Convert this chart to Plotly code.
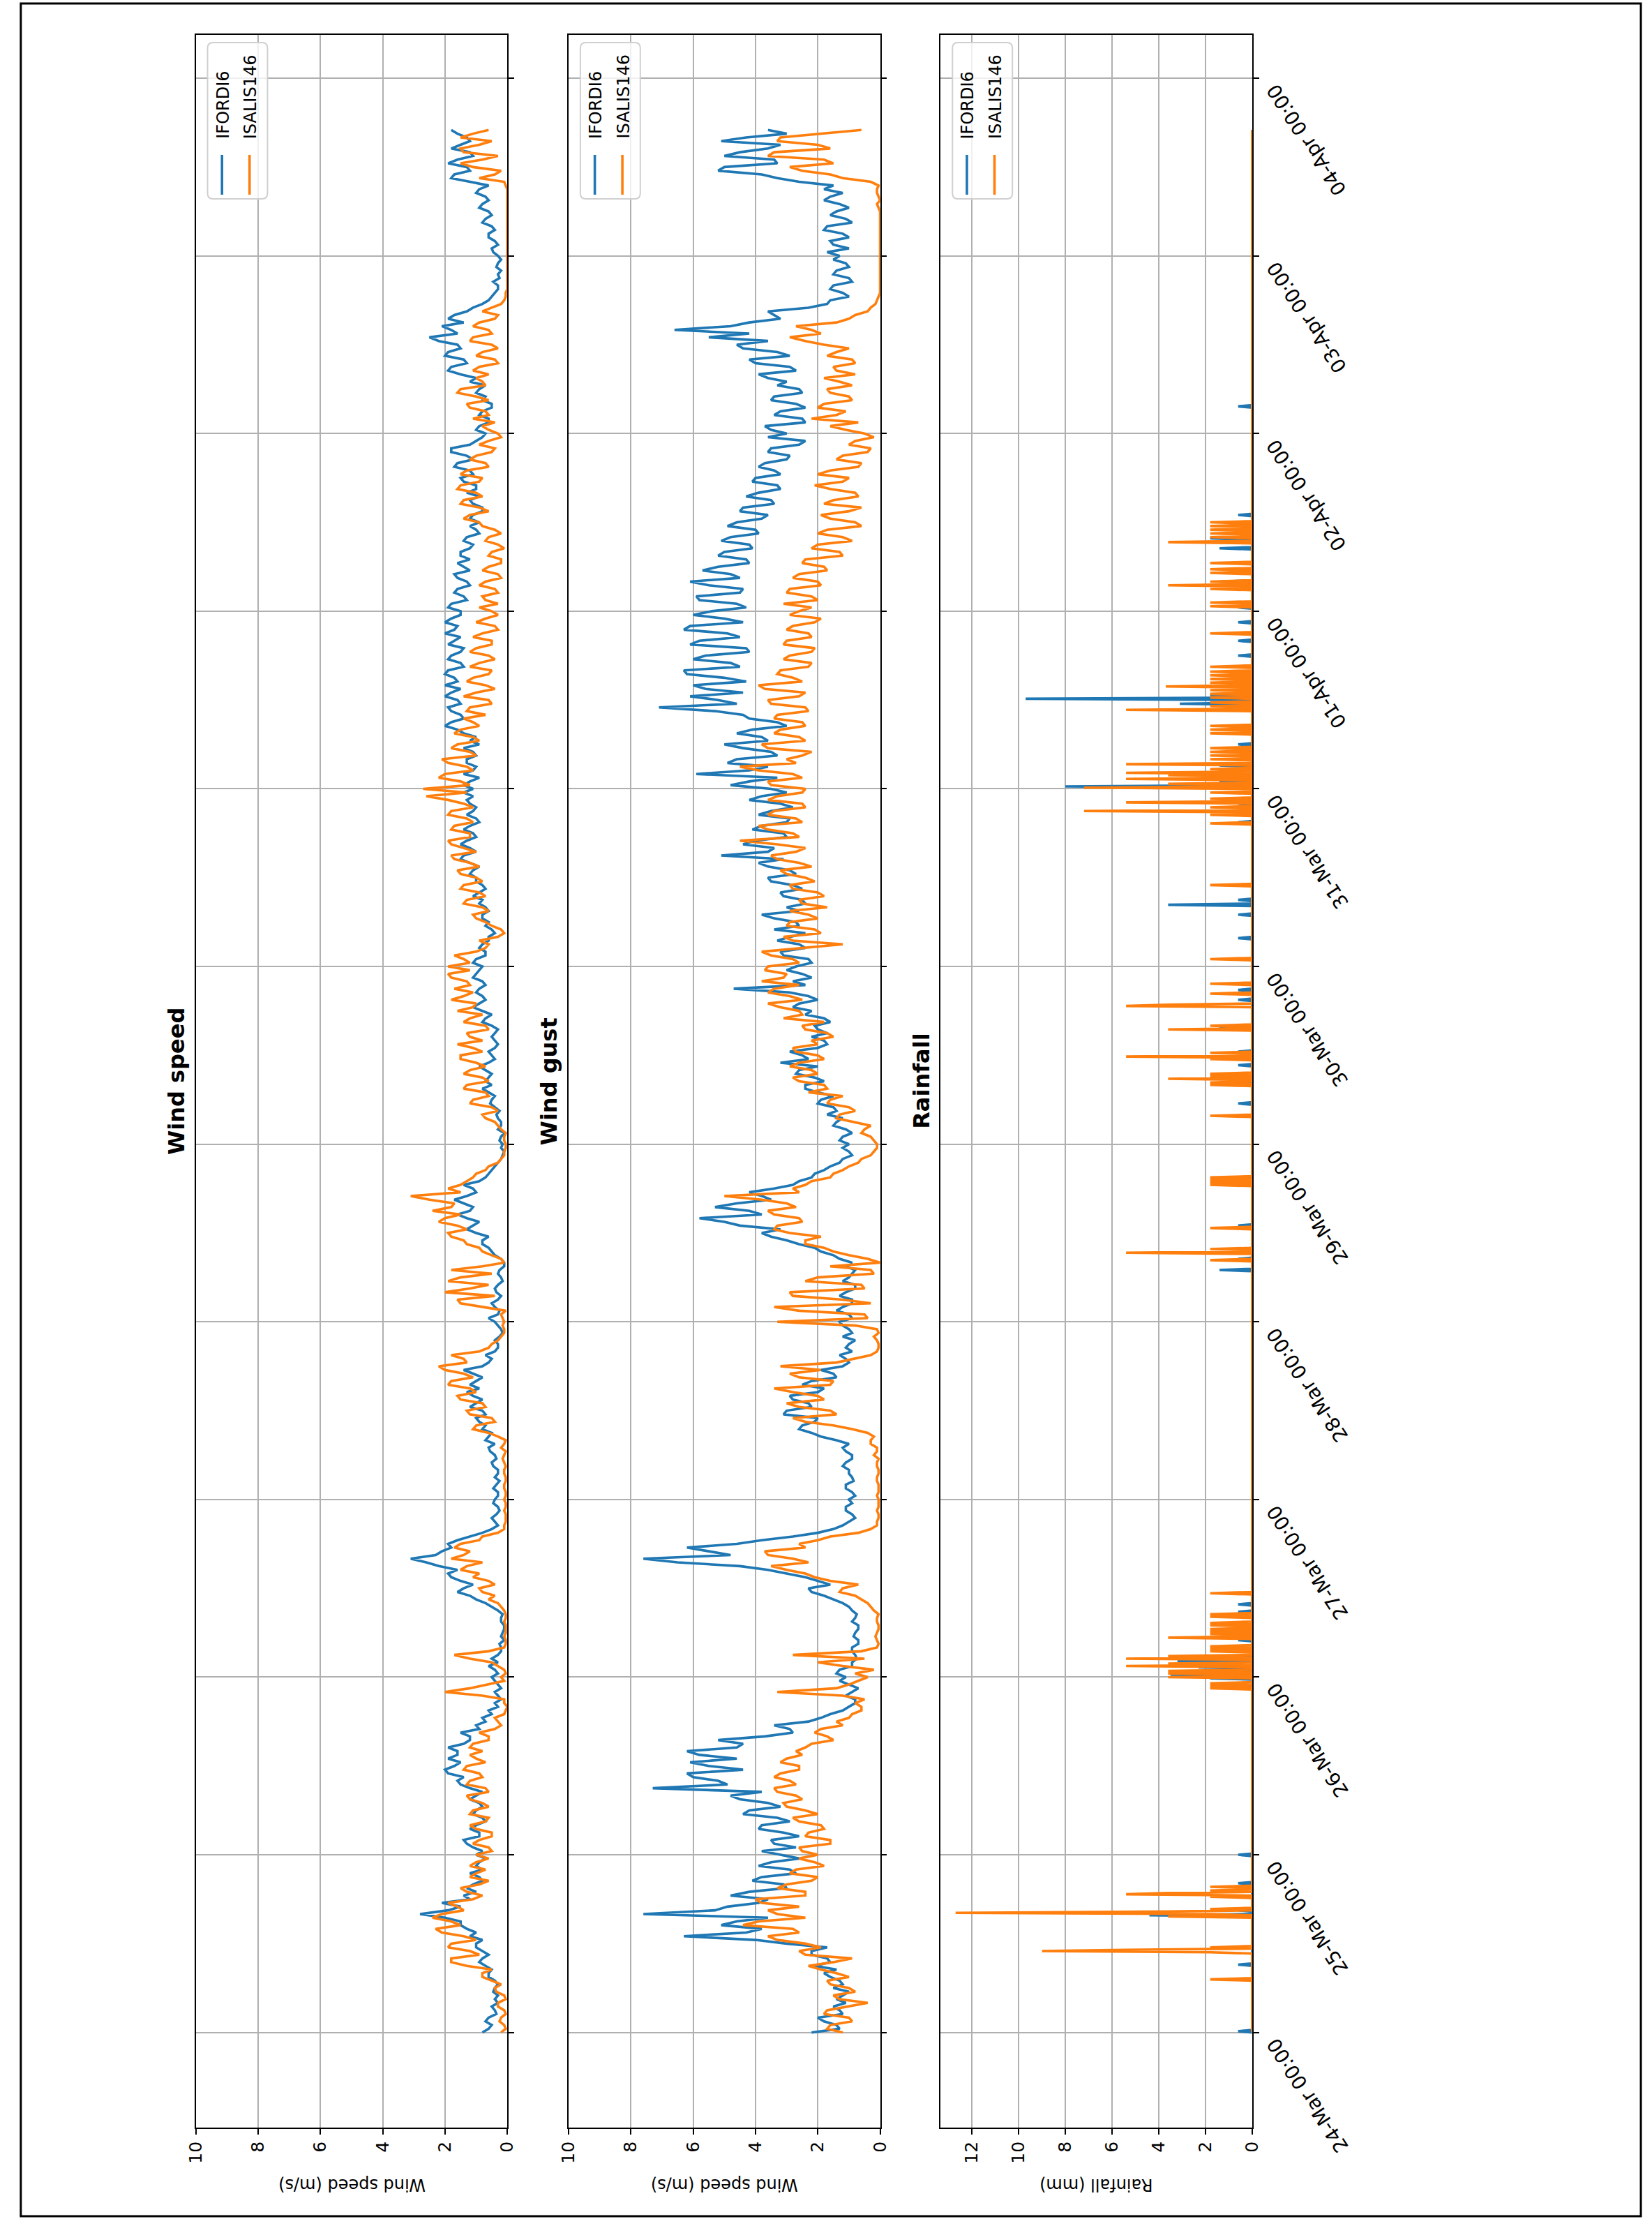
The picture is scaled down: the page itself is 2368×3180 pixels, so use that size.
import numpy as np
import pandas as pd
import plotly.graph_objects as go

W, H = 2368, 3180

# ---------------- data: readings at every full hour and every half hour ----------------
start = pd.Timestamp("2021-03-24 00:00")
n_hours = 258  # 24-Mar 00:00 .. 03-Apr 17:00

# values at hh:00
speed_ifordi6 = [
    0.8, 0.5, 0.6, 0.4, 0.3, 0.3, 0.4, 0.4, 0.6, 0.7, 0.8, 0.8, 1.0, 1.2, 1.3, 1.5, 2.8, 1.5, 1.2, 1.0, 1.1, 0.9, 0.8, 0.9,
    1.0, 1.1, 1.4, 0.9, 1.0, 0.8, 1.0, 0.9, 1.0, 1.2, 1.6, 1.9, 1.7, 1.9, 1.6, 1.4, 1.2, 0.9, 0.7, 0.5, 0.3, 0.2, 0.4, 0.3,
    0.5, 0.4, 0.3, 0.3, 0.2, 0.1, 0.15, 0.1, 0.2, 0.3, 0.7, 1.2, 1.4, 1.5, 1.9, 2.2, 3.1, 2.1, 1.9, 1.2, 0.5, 0.4, 0.35, 0.3,
    0.4, 0.3, 0.35, 0.4, 0.3, 0.5, 0.4, 0.6, 0.7, 0.5, 0.7, 1.0, 0.8, 1.0, 1.1, 0.9, 1.0, 1.1, 0.8, 0.5, 0.4, 0.3, 0.25, 0.2,
    0.4, 0.3, 0.4, 0.3, 0.35, 0.3, 0.2, 0.25, 0.1, 0.4, 0.6, 0.8, 1.0, 1.1, 1.3, 1.2, 1.4, 1.3, 1.1, 0.9, 0.6, 0.4, 0.2, 0.1,
    0.15, 0.2, 0.3, 0.2, 0.35, 0.4, 0.5, 0.6, 0.5, 0.6, 0.7, 0.6, 0.5, 0.4, 0.4, 0.4, 0.5, 0.7, 0.8, 0.9, 0.8, 0.9, 0.8, 1.0,
    0.8, 1.0, 0.7, 0.8, 0.6, 0.5, 0.6, 0.8, 0.7, 0.8, 0.9, 0.8, 1.0, 1.1, 1.2, 1.4, 1.2, 1.3, 1.1, 1.2, 1.0, 1.1, 1.2, 1.1,
    1.1, 1.2, 1.4, 1.0, 1.3, 1.1, 0.9, 1.0, 1.6, 1.8, 1.5, 1.9, 1.6, 1.8, 2.0, 1.7, 1.9, 1.5, 1.8, 1.4, 1.7, 2.0, 1.6, 1.8,
    1.5, 1.8, 1.4, 1.6, 1.3, 1.7, 1.4, 1.2, 1.5, 1.1, 1.3, 1.0, 0.9, 1.1, 0.8, 1.2, 1.3, 1.0, 1.5, 1.2, 1.6, 1.3, 1.8, 1.0,
    0.7, 0.9, 0.6, 0.8, 0.5, 0.7, 0.9, 1.2, 1.5, 1.8, 1.4, 1.9, 1.6, 2.5, 1.8, 1.4, 1.7, 1.1, 0.6, 0.4, 0.3, 0.25, 0.2, 0.3,
    0.3, 0.5, 0.4, 0.6, 0.5, 0.7, 0.6, 0.8, 0.7, 0.9, 1.2, 1.7, 1.3, 1.6, 1.2, 1.5, 1.3, 1.8,
]
speed_isalis146 = [
    0.2, 0.1, 0.2, 0.1, 0.3, 0.1, 0.4, 0.5, 0.8, 1.3, 1.8, 1.2, 1.8, 1.4, 2.3, 1.8, 2.1, 1.6, 1.1, 1.3, 0.9, 1.2, 0.7, 1.0,
    1.0, 0.6, 0.9, 0.5, 1.2, 0.6, 1.1, 0.8, 1.3, 0.7, 1.2, 0.9, 1.3, 1.0, 0.8, 1.1, 0.6, 0.4, 0.3, 0.1, 0.0, 0.1, 2.0, 0.6,
    0.2, 0.1, 0.5, 1.7, 0.1, 0.05, 0.05, 0.05, 0.05, 0.1, 0.3, 0.4, 0.9, 0.6, 0.9, 1.3, 1.8, 1.2, 1.5, 0.8, 0.1, 0.05, 0.05, 0.05,
    0.1, 0.05, 0.1, 0.05, 0.1, 0.1, 0.1, 0.2, 0.05, 0.6, 1.0, 0.5, 1.3, 0.8, 1.6, 1.2, 1.8, 1.4, 2.2, 1.4, 0.9, 0.5, 0.2, 0.1,
    0.1, 0.2, 0.8, 1.6, 2.0, 0.6, 1.5, 1.8, 0.1, 0.5, 0.9, 1.4, 1.9, 1.6, 2.0, 2.4, 1.7, 3.1, 1.9, 1.3, 1.0, 0.6, 0.2, 0.1,
    0.05, 0.1, 0.2, 0.4, 0.8, 0.5, 1.1, 0.7, 1.3, 0.8, 1.2, 1.0, 1.5, 1.1, 0.8, 1.3, 0.7, 1.2, 1.6, 1.0, 1.4, 1.7, 1.3, 1.9,
    1.9, 1.4, 1.0, 0.6, 0.3, 0.2, 0.7, 1.1, 0.8, 1.3, 0.9, 1.4, 1.0, 1.6, 1.2, 1.8, 1.4, 1.9, 1.2, 1.7, 1.3, 1.8, 1.4, 2.6,
    2.7, 1.5, 2.0, 1.3, 2.1, 1.2, 1.6, 1.1, 1.5, 1.1, 0.7, 1.2, 0.6, 1.0, 0.7, 1.1, 0.5, 0.9, 0.6, 1.0, 0.5, 0.8, 0.4, 0.7,
    0.5, 0.3, 0.8, 0.4, 0.7, 0.3, 0.6, 0.2, 0.5, 0.3, 0.6, 0.4, 0.9, 1.2, 0.9, 1.4, 1.0, 1.5, 0.8, 1.3, 0.7, 1.0, 0.4, 0.6,
    0.3, 0.8, 1.1, 0.7, 1.3, 1.0, 1.5, 0.8, 0.6, 0.9, 0.4, 0.8, 0.5, 1.1, 0.6, 0.9, 0.3, 0.5, 0.1, 0.05, 0.0, 0.0, 0.0, 0.0,
    0.0, 0.0, 0.0, 0.0, 0.0, 0.0, 0.0, 0.0, 0.0, 0.0, 0.1, 0.4, 1.1, 0.8, 1.4, 0.9, 1.5, 0.6,
]
gust_ifordi6 = [
    2.2, 1.4, 2.0, 1.3, 1.1, 1.2, 1.5, 1.3, 1.8, 2.1, 1.7, 2.2, 3.0, 6.3, 3.8, 4.6, 7.6, 4.9, 3.6, 4.2, 3.1, 3.8, 2.9, 3.5,
    3.2, 2.7, 3.5, 3.1, 3.8, 3.3, 4.2, 3.6, 4.8, 7.3, 5.2, 6.2, 5.5, 4.6, 6.2, 4.4, 3.7, 2.9, 2.3, 1.6, 1.0, 0.8, 0.9, 1.0,
    1.1, 1.3, 0.9, 0.8, 0.9, 0.7, 0.8, 0.7, 0.8, 0.9, 1.2, 1.8, 2.3, 2.0, 3.0, 4.5, 7.6, 5.5, 4.6, 2.8, 1.5, 1.0, 0.9, 1.1,
    1.0, 0.9, 1.1, 0.9, 1.0, 1.1, 0.9, 1.2, 1.4, 2.2, 2.5, 2.0, 3.0, 2.3, 2.9, 1.8, 2.2, 1.5, 1.2, 1.1, 0.9, 1.0, 1.2, 1.0,
    1.3, 1.0, 1.2, 0.9, 1.1, 0.8, 1.0, 0.8, 0.9, 1.5, 2.1, 3.0, 3.8, 4.5, 5.8, 4.2, 4.6, 3.8, 3.4, 2.6, 2.1, 1.6, 1.2, 1.0,
    1.0, 1.2, 1.1, 1.4, 1.7, 1.5, 1.9, 2.0, 2.4, 2.1, 2.6, 3.2, 2.5, 2.0, 1.8, 1.7, 2.1, 1.8, 2.2, 2.6, 2.3, 4.7, 2.8, 2.5,
    2.7, 2.3, 3.2, 2.6, 2.9, 3.4, 2.7, 3.8, 3.0, 2.5, 3.2, 2.8, 3.6, 2.9, 3.9, 5.1, 3.4, 4.0, 3.1, 3.8, 2.9, 3.5, 3.2, 3.8,
    3.5, 4.2, 5.9, 3.6, 4.6, 3.5, 5.0, 3.8, 4.1, 3.3, 4.4, 7.1, 5.2, 4.4, 6.0, 5.0, 6.3, 4.8, 5.6, 4.3, 5.8, 4.9, 6.1, 5.0,
    5.4, 4.6, 5.9, 4.4, 6.1, 4.8, 5.2, 4.3, 5.0, 4.2, 4.8, 4.0, 4.6, 3.6, 4.4, 3.5, 3.9, 3.3, 4.0, 3.4, 3.7, 2.9, 3.5, 2.4,
    3.0, 3.7, 2.5, 3.2, 2.7, 3.4, 2.6, 3.0, 3.9, 2.9, 4.2, 3.3, 4.6, 5.5, 6.6, 4.2, 3.4, 2.3, 1.6, 1.2, 1.5, 1.0, 1.4, 1.1,
    1.3, 1.0, 1.6, 1.2, 1.7, 1.1, 1.4, 1.3, 1.6, 1.8, 2.6, 3.8, 5.0, 3.4, 4.5, 3.2, 4.3, 3.6,
]
gust_isalis146 = [
    1.2, 1.6, 1.0, 1.7, 0.4, 1.5, 1.0, 1.7, 1.4, 2.3, 0.9, 2.6, 2.4, 3.6, 2.8, 3.9, 3.3, 2.6, 4.0, 2.4, 3.0, 2.0, 2.7, 2.1,
    2.0, 2.6, 1.6, 2.3, 1.9, 2.8, 2.4, 3.1, 2.7, 3.4, 2.9, 3.2, 2.6, 3.0, 2.7, 2.2, 1.7, 1.9, 1.4, 0.9, 0.6, 0.5, 3.3, 1.0,
    0.4, 0.2, 2.0, 2.8, 0.1, 0.1, 0.1, 0.05, 0.1, 0.2, 0.4, 0.8, 1.2, 1.6, 2.4, 3.5, 2.8, 3.7, 2.6, 1.6, 0.3, 0.1, 0.05, 0.05,
    0.05, 0.05, 0.05, 0.1, 0.05, 0.1, 0.2, 0.1, 0.3, 0.4, 1.5, 2.8, 1.6, 3.0, 2.0, 3.4, 1.5, 2.9, 3.2, 0.8, 0.1, 0.05, 0.2, 0.1,
    3.3, 0.5, 3.4, 1.2, 2.9, 0.6, 2.0, 0.3, 0.0, 1.0, 1.8, 2.4, 2.9, 3.3, 2.6, 3.6, 3.0, 5.0, 2.8, 2.2, 1.5, 1.0, 0.6, 0.2,
    0.1, 0.3, 0.5, 0.9, 1.3, 1.0, 1.6, 2.3, 1.8, 2.8, 2.2, 2.6, 2.0, 2.8, 2.2, 1.7, 2.5, 3.1, 2.6, 3.6, 2.9, 3.4, 3.8, 3.0,
    3.6, 2.8, 3.8, 1.2, 3.1, 2.1, 2.9, 2.3, 1.7, 2.6, 2.0, 2.9, 2.4, 3.2, 2.6, 3.5, 2.4, 4.5, 2.8, 3.9, 2.7, 3.4, 2.5, 3.3,
    2.4, 3.6, 2.8, 4.5, 3.0, 2.2, 3.8, 2.6, 3.2, 2.5, 3.3, 2.4, 3.6, 2.4, 3.9, 2.8, 3.2, 2.2, 2.9, 2.1, 3.0, 2.3, 2.8, 1.9,
    2.6, 3.1, 2.2, 2.9, 2.0, 2.6, 1.8, 2.4, 1.3, 2.0, 1.2, 1.7, 0.8, 1.9, 0.6, 1.5, 0.8, 2.1, 1.0, 1.6, 0.6, 1.2, 0.3, 0.8,
    0.5, 1.6, 2.2, 1.1, 1.8, 1.0, 1.7, 1.3, 0.8, 1.5, 0.9, 1.4, 1.8, 2.9, 2.2, 1.4, 0.8, 0.3, 0.1, 0.0, 0.0, 0.0, 0.0, 0.0,
    0.0, 0.0, 0.0, 0.0, 0.0, 0.0, 0.0, 0.1, 0.05, 0.1, 0.3, 1.6, 2.9, 1.8, 3.4, 2.0, 3.2, 0.6,
]

# values at hh:30 (24-Mar 00:30 .. 03-Apr 16:30)
speed_ifordi6_half = [
    0.6, 0.7, 0.35, 0.5, 0.4, 0.45, 0.3, 0.6, 0.5, 0.9, 0.6, 1.0, 0.8, 1.0, 1.5, 2.0, 1.9, 2.1, 1.4, 1.3, 0.8, 1.2, 1.0, 0.7,
    0.8, 1.3, 0.9, 1.2, 0.7, 1.1, 0.8, 1.2, 0.8, 1.5, 1.4, 2.0, 1.5, 1.6, 1.9, 1.2, 1.5, 1.0, 0.8, 0.6, 0.4, 0.3, 0.2, 0.4,
    0.3, 0.6, 0.5, 0.2, 0.25, 0.2, 0.1, 0.2, 0.15, 0.5, 1.0, 1.6, 1.1, 1.8, 1.6, 2.6, 2.3, 1.8, 1.6, 0.8, 0.3, 0.5, 0.25, 0.45,
    0.3, 0.45, 0.25, 0.3, 0.45, 0.35, 0.55, 0.4, 0.6, 0.8, 0.9, 0.7, 1.2, 0.8, 1.3, 1.2, 0.8, 1.4, 0.6, 0.7, 0.3, 0.4, 0.15, 0.3,
    0.6, 0.25, 0.5, 0.2, 0.4, 0.15, 0.3, 0.1, 0.2, 0.5, 0.8, 0.6, 1.3, 0.9, 1.6, 1.1, 1.7, 1.0, 1.4, 0.7, 0.5, 0.3, 0.15, 0.2,
    0.25, 0.1, 0.2, 0.3, 0.25, 0.55, 0.4, 0.8, 0.7, 0.5, 0.9, 0.4, 0.6, 0.3, 0.5, 0.3, 0.8, 0.5, 1.1, 0.7, 1.0, 0.7, 1.1, 0.9,
    1.1, 0.7, 0.9, 0.6, 0.4, 0.7, 0.8, 0.6, 0.9, 1.1, 0.7, 1.0, 1.2, 0.9, 1.5, 1.0, 1.5, 1.0, 1.4, 0.9, 1.3, 1.0, 1.3, 1.4,
    1.4, 0.9, 1.1, 1.3, 1.0, 1.4, 1.2, 1.4, 2.0, 1.4, 1.8, 1.5, 2.0, 1.5, 1.6, 2.0, 1.4, 1.9, 1.5, 1.9, 1.5, 1.7, 2.0, 1.5,
    1.9, 1.3, 1.7, 1.2, 1.6, 1.2, 1.6, 1.5, 1.2, 1.4, 0.9, 1.2, 1.2, 0.8, 1.1, 0.9, 1.0, 1.4, 1.1, 1.7, 1.1, 1.8, 1.2, 0.8,
    1.0, 0.6, 0.9, 0.5, 0.8, 1.0, 0.7, 1.0, 1.9, 1.3, 2.0, 1.5, 2.2, 1.6, 2.1, 1.9, 1.3, 0.8, 0.5, 0.3, 0.45, 0.3, 0.35, 0.2,
    0.45, 0.3, 0.6, 0.4, 0.8, 0.5, 0.9, 0.6, 1.0, 0.6, 1.8, 1.2, 1.9, 1.1, 1.8, 1.2, 1.6,
]
speed_isalis146_half = [
    0.05, 0.25, 0.05, 0.3, 0.05, 0.35, 0.2, 0.8, 0.5, 1.8, 0.9, 1.9, 1.0, 2.1, 1.5, 2.4, 1.4, 1.9, 0.8, 1.5, 0.6, 1.0, 1.2, 0.6,
    0.5, 1.1, 0.5, 1.0, 0.7, 1.2, 0.6, 1.2, 0.6, 1.3, 0.8, 1.4, 0.7, 1.2, 1.2, 0.6, 0.9, 0.2, 0.4, 0.05, 0.1, 0.8, 1.2, 0.1,
    0.05, 0.3, 1.2, 0.6, 0.05, 0.1, 0.05, 0.1, 0.05, 0.2, 0.6, 0.8, 0.4, 1.1, 1.5, 0.8, 1.4, 1.7, 0.9, 0.3, 0.1, 0.05, 0.1, 0.05,
    0.05, 0.1, 0.05, 0.1, 0.05, 0.15, 0.05, 0.1, 0.3, 1.1, 0.4, 1.2, 0.7, 1.5, 1.0, 1.9, 1.1, 2.0, 1.3, 1.8, 0.6, 0.3, 0.1, 0.15,
    0.15, 0.05, 1.5, 0.4, 1.2, 1.9, 0.5, 0.8, 0.2, 0.8, 1.3, 1.8, 1.3, 2.2, 1.5, 1.8, 2.5, 1.5, 1.5, 1.1, 0.7, 0.3, 0.1, 0.05,
    0.1, 0.05, 0.3, 0.7, 0.3, 1.2, 0.6, 1.4, 0.6, 1.4, 0.7, 1.5, 0.8, 1.6, 1.2, 0.6, 1.4, 0.8, 1.1, 1.8, 1.1, 1.2, 1.8, 1.2,
    1.2, 1.7, 0.7, 0.9, 0.1, 0.5, 1.0, 0.6, 1.4, 0.7, 1.5, 0.8, 1.5, 0.9, 1.7, 1.0, 1.8, 1.2, 1.8, 1.1, 1.9, 1.1, 1.9, 1.3,
    1.2, 2.2, 1.1, 1.9, 1.0, 1.8, 0.9, 1.7, 0.9, 1.4, 1.3, 0.5, 1.4, 0.4, 1.3, 0.6, 1.2, 0.4, 1.2, 0.5, 1.1, 0.3, 1.0, 0.3,
    0.9, 0.7, 0.3, 0.9, 0.2, 0.8, 0.2, 0.6, 0.1, 0.7, 0.2, 0.8, 1.4, 0.6, 1.5, 0.8, 1.6, 0.9, 1.5, 0.6, 1.2, 0.5, 0.9, 0.2,
    0.6, 0.4, 0.6, 1.2, 0.6, 1.6, 0.7, 1.0, 1.1, 0.3, 1.0, 0.3, 1.2, 0.5, 1.1, 0.4, 0.8, 0.2, 0.05, 0.0, 0.0, 0.0, 0.0, 0.0,
    0.0, 0.0, 0.0, 0.0, 0.0, 0.0, 0.0, 0.0, 0.0, 0.05, 0.9, 0.2, 1.5, 0.3, 1.5, 0.5, 1.1,
]
gust_ifordi6_half = [
    1.3, 1.8, 1.2, 1.5, 1.4, 1.0, 1.2, 1.6, 1.4, 1.6, 2.2, 1.7, 4.0, 4.3, 5.1, 3.6, 5.3, 3.9, 4.8, 3.0, 4.1, 2.7, 3.9, 2.6,
    3.8, 3.4, 2.6, 3.9, 2.9, 4.4, 3.2, 4.5, 3.8, 4.9, 6.0, 4.4, 6.1, 5.8, 4.6, 5.2, 2.8, 3.4, 1.9, 1.2, 0.8, 1.1, 0.7, 1.3,
    1.4, 0.9, 0.75, 0.9, 0.7, 0.85, 0.7, 0.9, 0.75, 1.0, 1.5, 2.2, 1.6, 2.4, 3.6, 6.5, 4.8, 6.2, 3.8, 2.0, 1.2, 0.8, 1.1, 0.9,
    0.8, 1.1, 0.85, 1.0, 1.2, 0.9, 1.1, 1.0, 1.9, 2.6, 2.1, 3.1, 2.2, 2.8, 2.0, 2.5, 1.4, 1.9, 1.0, 1.3, 1.1, 0.8, 0.9, 1.2,
    0.9, 1.4, 0.9, 1.3, 0.8, 1.2, 0.9, 1.1, 1.3, 1.9, 2.6, 3.5, 3.2, 5.0, 3.8, 5.3, 3.5, 4.2, 2.8, 2.2, 1.8, 1.3, 0.9, 1.2,
    1.3, 0.9, 1.5, 1.2, 1.4, 2.0, 1.5, 2.4, 1.8, 2.7, 2.0, 2.3, 2.9, 1.7, 2.2, 2.0, 1.6, 2.4, 2.8, 2.0, 2.9, 2.4, 2.2, 3.0,
    2.2, 3.1, 2.4, 3.3, 2.4, 2.6, 3.4, 2.6, 2.4, 3.1, 2.5, 3.5, 2.7, 3.6, 3.1, 3.6, 4.4, 3.0, 4.1, 3.0, 3.9, 2.8, 4.2, 3.0,
    4.8, 3.3, 4.2, 4.9, 3.3, 4.4, 3.6, 4.6, 3.0, 4.2, 5.3, 4.6, 6.1, 5.6, 4.3, 6.2, 4.5, 6.0, 4.2, 6.1, 4.5, 6.3, 4.4, 6.0,
    4.3, 5.8, 4.5, 5.5, 4.5, 5.7, 4.2, 5.2, 4.1, 5.1, 3.9, 4.9, 3.8, 4.5, 3.4, 4.3, 3.2, 4.1, 3.2, 3.9, 3.0, 3.6, 2.6, 3.6,
    3.5, 2.4, 3.4, 2.4, 3.5, 2.5, 3.3, 3.6, 2.7, 4.0, 2.9, 4.4, 3.6, 4.2, 4.8, 3.2, 3.6, 1.7, 1.0, 1.6, 0.9, 1.5, 1.0, 1.5,
    1.7, 1.5, 1.0, 1.8, 0.9, 1.6, 1.0, 1.8, 1.2, 1.5, 3.3, 5.2, 3.3, 5.0, 3.6, 5.1, 3.0,
]
gust_isalis146_half = [
    1.7, 0.9, 1.8, 1.1, 1.3, 0.8, 1.6, 1.0, 1.9, 1.5, 2.4, 1.9, 3.3, 2.6, 4.4, 2.4, 3.6, 3.8, 2.4, 3.3, 2.2, 2.9, 1.8, 2.6,
    2.5, 1.6, 2.4, 1.8, 2.6, 2.0, 3.0, 2.5, 3.3, 2.7, 3.4, 2.6, 3.2, 2.5, 2.4, 1.5, 2.1, 1.2, 1.0, 0.6, 0.8, 1.2, 1.4, 0.7,
    0.8, 1.2, 0.5, 0.6, 0.05, 0.15, 0.05, 0.1, 0.05, 0.3, 0.6, 1.3, 0.7, 2.1, 3.0, 2.3, 3.6, 2.4, 2.0, 0.7, 0.1, 0.05, 0.1, 0.05,
    0.1, 0.05, 0.1, 0.05, 0.1, 0.05, 0.1, 0.3, 0.2, 0.9, 2.4, 1.4, 2.6, 1.8, 2.8, 1.6, 2.6, 1.9, 1.4, 0.3, 0.05, 0.1, 0.05, 0.8,
    0.4, 2.6, 0.3, 2.8, 0.5, 2.4, 0.2, 1.6, 0.4, 1.5, 2.4, 1.9, 3.4, 2.5, 3.4, 2.7, 3.8, 2.6, 2.4, 1.6, 1.2, 0.7, 0.3, 0.1,
    0.2, 0.6, 0.3, 1.4, 0.8, 1.7, 1.2, 1.7, 2.6, 2.0, 2.9, 1.8, 2.7, 2.0, 1.5, 2.4, 1.8, 2.5, 3.2, 2.5, 3.6, 2.6, 3.1, 3.7,
    2.6, 3.5, 2.4, 2.8, 1.9, 3.0, 2.0, 2.9, 2.5, 1.8, 2.8, 2.1, 3.0, 2.2, 3.3, 2.7, 3.3, 2.6, 3.6, 2.5, 3.6, 2.4, 3.6, 2.5,
    3.5, 2.5, 3.9, 2.7, 2.5, 3.6, 2.4, 3.4, 2.4, 3.4, 2.3, 3.5, 2.6, 3.7, 2.5, 3.3, 2.3, 3.1, 2.2, 3.1, 2.2, 3.0, 2.1, 2.9,
    2.2, 2.0, 3.0, 1.9, 2.8, 1.7, 2.5, 1.2, 2.2, 0.9, 2.0, 0.6, 1.6, 1.0, 1.8, 0.7, 1.6, 1.2, 2.0, 0.7, 1.4, 0.4, 1.0, 0.2,
    1.1, 0.7, 1.4, 2.0, 0.9, 1.6, 0.9, 1.8, 1.4, 0.8, 1.7, 1.0, 2.4, 1.9, 2.7, 1.0, 0.4, 0.15, 0.05, 0.0, 0.0, 0.0, 0.0, 0.0,
    0.0, 0.0, 0.0, 0.0, 0.0, 0.0, 0.05, 0.0, 0.1, 0.05, 1.2, 2.5, 1.5, 3.6, 1.6, 3.3, 1.9,
]

# Rainfall: readings are zero except at these moments (hours after 24-Mar 00:00), on a 10-minute grid
rain_ifordi6_hour = [
    0.2, 9.2, 15.9, 16.5, 20.2, 24.0,
    46.8, 47.8, 48.3, 48.7, 49.3, 50.2, 50.7, 51.6, 53.0, 54.6, 56.8, 57.9,
    103.0, 104.5, 105.8, 109.0, 114.8, 115.3,
    125.5, 128.3, 128.8, 130.6, 132.5, 135.8, 139.5, 140.8,
    147.9, 151.0, 152.3, 153.0, 163.5,
    166.0, 168.3, 169.0, 170.5, 171.2, 174.0, 179.5, 180.1, 180.6, 183.0, 186.0, 188.0, 190.5,
    192.5, 196.0, 197.5, 200.5, 201.9, 203.6, 205.0,
    219.7,
]
rain_ifordi6_mm = [
    0.6, 0.6, 4.4, 0.6, 0.6, 0.6,
    0.3, 1.8, 3.5, 1.8, 2.3, 3.2, 2.3, 1.4, 0.6, 0.6, 0.6, 0.6,
    1.4, 0.6, 0.6, 0.6, 0.6, 0.6,
    0.6, 1.4, 0.6, 0.6, 0.6, 1.4, 0.6, 0.6,
    0.6, 0.6, 3.6, 0.6, 0.6,
    0.6, 8.0, 1.4, 1.4, 1.4, 0.6, 3.1, 9.7, 1.8, 0.6, 0.6, 0.6, 0.6,
    0.6, 1.4, 0.6, 1.4, 1.8, 0.6, 0.6,
    0.6,
]
rain_isalis146_hour = [
    7.1, 10.8, 11.0, 11.2, 11.5, 15.7, 16.0, 16.1, 16.3, 16.6, 18.3, 18.6, 18.9, 19.2, 19.7,
    46.5, 46.8, 47.2, 48.0, 48.5, 48.8, 49.5, 49.9, 50.5, 50.9, 51.5, 51.8, 52.2, 53.4, 53.8, 54.2, 54.5,
    55.0, 55.3, 56.2, 56.5, 59.3,
    104.3, 105.4, 105.8, 108.7, 114.5, 114.8, 115.2, 115.5,
    123.8, 128.0, 128.3, 128.8, 129.1, 129.5, 131.5, 131.9, 132.3, 135.5, 136.0, 138.6, 138.9, 140.3, 141.6,
    145.0, 155.0, 163.3, 164.5, 165.0, 165.5, 166.2, 166.7, 167.5,
    168.2, 168.6, 169.3, 169.8, 170.2, 170.7, 171.3, 172.0, 172.5, 173.0, 173.5, 175.5, 176.0, 176.5,
    178.6, 179.2, 179.7, 180.3, 180.8, 181.3, 181.8, 182.3, 182.8, 183.3, 183.8, 184.5, 189.0,
    192.7, 193.2, 195.0, 195.5, 196.0, 197.2, 197.7, 198.5, 201.4, 202.0, 202.5, 203.0, 203.5, 204.0,
]
rain_isalis146_mm = [
    1.8, 1.8, 9.0, 5.4, 1.8, 3.6, 1.8, 12.7, 3.6, 1.8, 1.8, 5.4, 3.6, 1.8, 1.8,
    1.8, 1.8, 1.8, 3.6, 3.6, 3.6, 5.4, 3.6, 5.4, 3.6, 1.8, 1.8, 1.8, 3.6, 1.8, 1.8, 1.8,
    1.8, 1.8, 1.8, 1.8, 1.8,
    1.8, 5.4, 1.8, 1.8, 1.8, 1.8, 1.8, 1.8,
    1.8, 1.8, 1.8, 3.6, 1.8, 1.8, 1.8, 5.4, 1.8, 3.6, 1.8, 5.4, 3.6, 1.8, 1.8,
    1.8, 1.8, 1.8, 1.8, 7.2, 1.8, 5.4, 1.8, 1.8,
    7.2, 3.6, 5.4, 3.6, 5.4, 1.8, 5.4, 1.8, 1.8, 1.8, 1.8, 1.8, 1.8, 1.8,
    5.4, 1.8, 1.8, 1.8, 1.8, 1.8, 3.7, 1.8, 1.8, 1.8, 1.8, 1.8, 1.8,
    1.8, 1.8, 1.8, 3.6, 1.8, 1.8, 1.8, 1.8, 3.6, 1.8, 1.8, 1.8, 1.8, 1.8,
]

station_names = ["IFORDI6", "ISALIS146"]
station_colors = ["#1f77b4", "#ff7f0e"]
panel_titles = ["Wind speed", "Wind gust", "Rainfall"]
value_labels = ["Wind speed (m/s)", "Wind speed (m/s)", "Rainfall (mm)"]
value_ticks = [[0, 2, 4, 6, 8, 10], [0, 2, 4, 6, 8, 10], [0, 2, 4, 6, 8, 10, 12]]
date_ticks = pd.date_range("2021-03-24", "2021-04-04", freq="D")
date_tick_labels = [d.strftime("%d-%b %H:%M") for d in date_ticks]

for arr in (speed_ifordi6, speed_isalis146, gust_ifordi6, gust_isalis146):
    assert len(arr) == n_hours, len(arr)
for arr in (speed_ifordi6_half, speed_isalis146_half, gust_ifordi6_half, gust_isalis146_half):
    assert len(arr) == n_hours - 1, len(arr)
assert len(rain_ifordi6_hour) == len(rain_ifordi6_mm)
assert len(rain_isalis146_hour) == len(rain_isalis146_mm)

# half-hourly time axis for the wind readings
wind_times = [start + pd.Timedelta(minutes=30 * i) for i in range(2 * n_hours - 1)]


def merge(on_hour, on_half):
    out = []
    for a, b in zip(on_hour[:-1], on_half):
        out += [a, b]
    out.append(on_hour[-1])
    return out


# rain on a 10-minute grid
steps_per_hour = 6
n_rain = (n_hours - 1) * steps_per_hour + 1
rain_times = [start + pd.Timedelta(minutes=10 * i) for i in range(n_rain)]


def rain_series(hours, mm):
    s = np.zeros(n_rain)
    for h, v in zip(hours, mm):
        s[int(round(h * steps_per_hour))] = v
    return s


rain_ifordi6 = rain_series(rain_ifordi6_hour, rain_ifordi6_mm)
rain_isalis146 = rain_series(rain_isalis146_hour, rain_isalis146_mm)

# ---------------- layout geometry (pixels) ----------------
panel_px = [(269, 721), (810, 1262), (1350, 1802)]
top_px, bot_px = 50, 3049


def PX(x):
    return x / W


def PY(y):
    return 1 - y / H


span = wind_times[-1] - wind_times[0]
t_lo = (wind_times[0] - 0.05 * span).strftime("%Y-%m-%d %H:%M:%S")
t_hi = (wind_times[-1] + 0.05 * span).strftime("%Y-%m-%d %H:%M:%S")

rain_max = max(max(rain_ifordi6_mm), max(rain_isalis146_mm))
value_ranges = [[10, 0], [10, 0], [rain_max * 1.05, 0]]

FONT = "DejaVu Sans"
fig = go.Figure()

series = [
    (merge(speed_ifordi6, speed_ifordi6_half), merge(speed_isalis146, speed_isalis146_half), wind_times),
    (merge(gust_ifordi6, gust_ifordi6_half), merge(gust_isalis146, gust_isalis146_half), wind_times),
    (rain_ifordi6, rain_isalis146, rain_times),
]
for i, (a, b, tt) in enumerate(series):
    xa = "x" if i == 0 else f"x{i+1}"
    ya = "y" if i == 0 else f"y{i+1}"
    for vals, name, col in zip((a, b), station_names, station_colors):
        fig.add_trace(go.Scatter(
            x=list(vals), y=tt, mode="lines", name=name,
            line=dict(color=col, width=3.6),
            xaxis=xa, yaxis=ya, showlegend=False, hoverinfo="skip",
        ))

layout = dict(
    width=W, height=H,
    margin=dict(l=0, r=0, t=0, b=0),
    paper_bgcolor="white", plot_bgcolor="white",
    font=dict(family=FONT, color="black", size=24),
    showlegend=False,
)

ydom = [PY(bot_px), PY(top_px)]
for i, (x0, x1) in enumerate(panel_px):
    sx = "" if i == 0 else str(i + 1)
    layout["xaxis" + sx] = dict(
        domain=[PX(x0), PX(x1)], anchor="y" + sx,
        range=value_ranges[i], tickvals=value_ticks[i],
        ticks="outside", ticklen=8, tickwidth=1.9, tickcolor="black",
        showline=True, linecolor="black", linewidth=1.9, mirror=True,
        showgrid=True, gridcolor="#b0b0b0", gridwidth=1.9, zeroline=False,
        tickangle=-90, tickfont=dict(family=FONT, size=25, color="black"),
        side="bottom",
    )
    layout["yaxis" + sx] = dict(
        domain=ydom, anchor="x" + sx, type="date",
        range=[t_lo, t_hi], side="right",
        tickvals=list(date_ticks),
        ticks="outside", ticklen=8, tickwidth=1.9, tickcolor="black",
        showticklabels=False,
        showline=True, linecolor="black", linewidth=1.9, mirror=True,
        showgrid=True, gridcolor="#b0b0b0", gridwidth=1.9, zeroline=False,
    )

annotations = []
shapes = []
panel_mid_y = (top_px + bot_px) / 2
for i, (x0, x1) in enumerate(panel_px):
    # panel title (rotated)
    annotations.append(dict(
        text=f"<b>{panel_titles[i]}</b>", x=PX(x0 - 27.5), y=PY(panel_mid_y),
        xref="paper", yref="paper", xanchor="center", yanchor="middle",
        textangle=-90, showarrow=False, font=dict(family=FONT, size=32, color="black"),
    ))
    # value-axis label (upside down)
    annotations.append(dict(
        text=value_labels[i], x=PX((x0 + x1) / 2), y=PY(3131),
        xref="paper", yref="paper", xanchor="center", yanchor="middle",
        textangle=180, showarrow=False, font=dict(family=FONT, size=24, color="black"),
    ))
    # legend box (rounded)
    bx0, bx1, by0, by1, r = x0 + 17, x0 + 104, top_px + 11, top_px + 235, 8
    path = (
        f"M {PX(bx0 + r)},{PY(by0)} L {PX(bx1 - r)},{PY(by0)} Q {PX(bx1)},{PY(by0)} {PX(bx1)},{PY(by0 + r)} "
        f"L {PX(bx1)},{PY(by1 - r)} Q {PX(bx1)},{PY(by1)} {PX(bx1 - r)},{PY(by1)} "
        f"L {PX(bx0 + r)},{PY(by1)} Q {PX(bx0)},{PY(by1)} {PX(bx0)},{PY(by1 - r)} "
        f"L {PX(bx0)},{PY(by0 + r)} Q {PX(bx0)},{PY(by0)} {PX(bx0 + r)},{PY(by0)} Z"
    )
    shapes.append(dict(type="path", path=path, xref="paper", yref="paper",
                       line=dict(color="#d0d0d0", width=2), fillcolor="rgba(255,255,255,0.8)",
                       layer="above"))
    for k, (name, col) in enumerate(zip(station_names, station_colors)):
        lx = x0 + 38 + 40 * k
        shapes.append(dict(type="line", xref="paper", yref="paper",
                           x0=PX(lx), x1=PX(lx), y0=PY(top_px + 172), y1=PY(top_px + 229),
                           line=dict(color=col, width=3.6), layer="above"))
        annotations.append(dict(
            text=name, x=PX(lx + 1), y=PY(top_px + 151), xref="paper", yref="paper",
            xanchor="center", yanchor="bottom", textangle=-90, showarrow=False,
            font=dict(family=FONT, size=24, color="black"),
        ))

# date labels of the shared time axis (placed at the tick positions of the rainfall panel)
for d, lab in zip(date_ticks, date_tick_labels):
    annotations.append(dict(
        text=lab, x=PX(panel_px[2][1] + 12), y=d, xref="paper", yref="y3",
        xanchor="left", yanchor="top", textangle=-123, showarrow=False,
        font=dict(family=FONT, size=28, color="black"),
    ))

# outer frame of the picture
shapes.append(dict(type="rect", xref="paper", yref="paper",
                   x0=PX(15), x1=PX(2366), y0=PY(3176), y1=PY(5),
                   line=dict(color="black", width=3), layer="above"))

layout["annotations"] = annotations
layout["shapes"] = shapes
fig.update_layout(**layout)
fig.write_html(
    "out.html",
    config={"displayModeBar": False},
    post_script="document.body.style.margin='0px';document.body.style.padding='0px';",
)
